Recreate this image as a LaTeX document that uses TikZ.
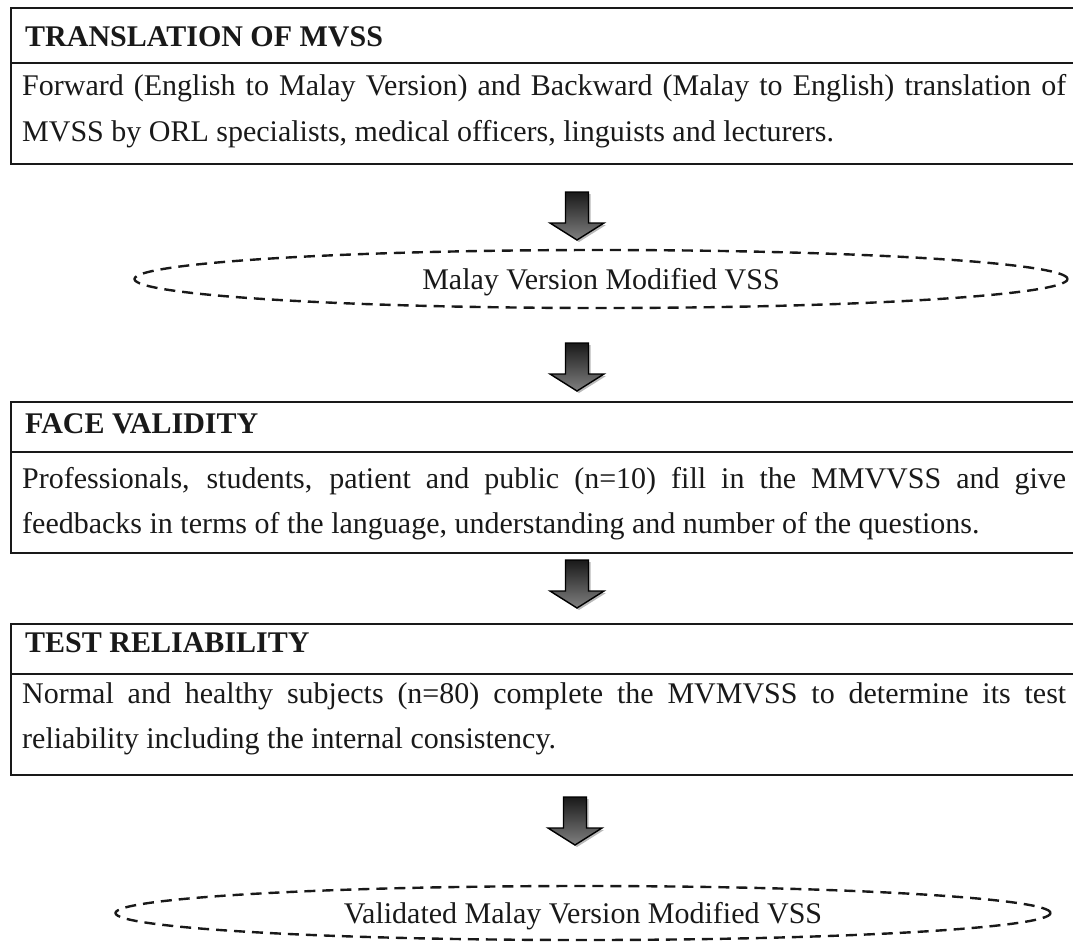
\documentclass[tikz,border=0pt]{standalone}
\usepackage{fontspec}
\setmainfont{Liberation Serif}
\usetikzlibrary{shapes.geometric}
\begin{document}
\begin{tikzpicture}[x=1pt,y=-1pt,
  frame/.style={draw=black!90, line width=1.8pt, rectangle, inner sep=0pt, anchor=north west, minimum width=1090pt},
  hdr/.style={font=\fontsize{30}{36}\selectfont\bfseries, text=black!90, anchor=base west, inner sep=0pt},
  body/.style={font=\fontsize{30}{36}\selectfont, text=black!90, anchor=base west, inner sep=0pt},
  dashell/.style={ellipse, draw=black!90, line width=2.4pt, dash pattern=on 11pt off 7pt, inner sep=0pt, text=black!90, font=\fontsize{30}{36}\selectfont, text height=22pt, text depth=2pt},
  blockarrow/.pic={
    \fill[gray!55] (-9.5,2) -- (13.5,2) -- (13.5,33) -- (29,33) -- (2,50) -- (-25,33) -- (-9.5,33) -- cycle;
    \draw[line width=1.4pt, draw=black, top color=black!90, bottom color=black!50]
      (-11.5,0) -- (11.5,0) -- (11.5,31) -- (27,31) -- (0,48) -- (-27,31) -- (-11.5,31) -- cycle;
  }
]
\useasboundingbox (0,0) rectangle (1073,945);
\clip (0,0) rectangle (1073,945);

% box 1
\node[frame, minimum height=55pt] (b1h) at (10,7) {};
\node[frame, minimum height=101pt] (b1b) at (10,62) {};
\node[hdr] (t1) at (25,46) {TRANSLATION OF MVSS};
\node[body] (l11) at (22,95) {\makebox[1044pt][s]{Forward (English to Malay Version) and Backward (Malay to English) translation of}};
\node[body] (l12) at (22,141) {MVSS by ORL specialists, medical officers, linguists and lecturers.};

% ellipse 1
\node[dashell, minimum width=933pt, minimum height=58pt] (e1) at (601,279) {Malay Version Modified VSS};

% box 2
\node[frame, minimum height=50pt] (b2h) at (10,401) {};
\node[frame, minimum height=101pt] (b2b) at (10,451) {};
\node[hdr] (t2) at (25,433) {FACE VALIDITY};
\node[body] (l21) at (22,488) {\makebox[1044pt][s]{Professionals, students, patient and public (n=10) fill in the MMVVSS and give}};
\node[body] (l22) at (22,533) {feedbacks in terms of the language, understanding and number of the questions.};

% box 3
\node[frame, minimum height=50pt] (b3h) at (10,623) {};
\node[frame, minimum height=101pt] (b3b) at (10,673) {};
\node[hdr] (t3) at (25,652) {TEST RELIABILITY};
\node[body] (l31) at (22,703) {\makebox[1044pt][s]{Normal and healthy subjects (n=80) complete the MVMVSS to determine its test}};
\node[body] (l32) at (22,748) {reliability including the internal consistency.};

% ellipse 2
\node[dashell, minimum width=935pt, minimum height=54pt] (e2) at (583,913) {Validated Malay Version Modified VSS};

% arrows
\coordinate (a1) at (577,192);
\coordinate (a2) at (577,343);
\coordinate (a3) at (577,560);
\coordinate (a4) at (575,797);
\pic at (a1) {blockarrow};
\pic at (a2) {blockarrow};
\pic at (a3) {blockarrow};
\pic at (a4) {blockarrow};
\end{tikzpicture}
\end{document}
